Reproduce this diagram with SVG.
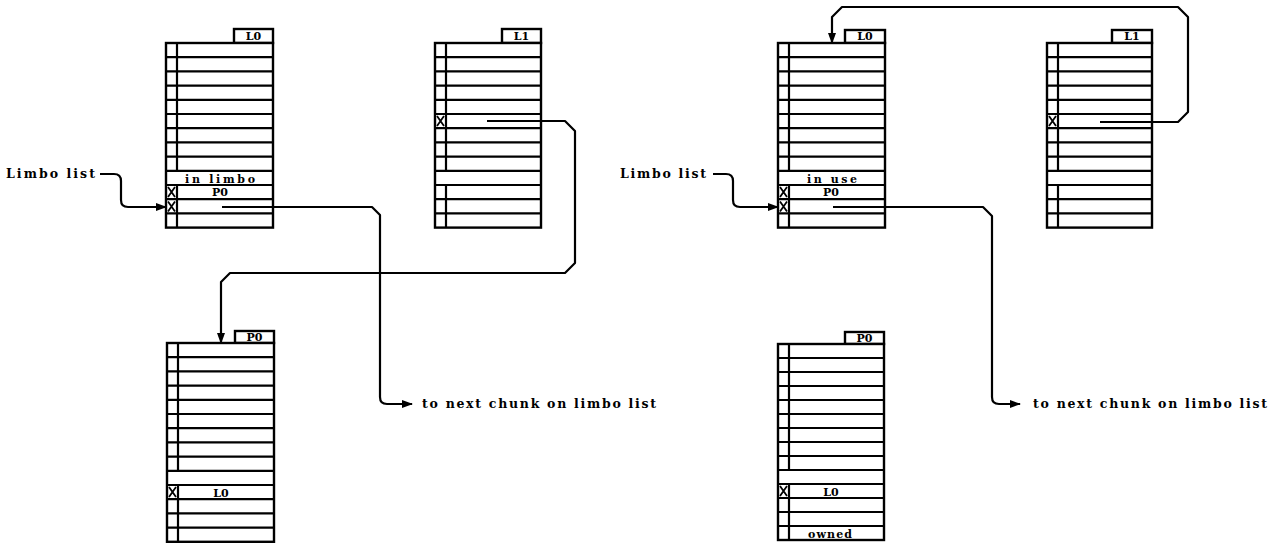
<svg xmlns="http://www.w3.org/2000/svg" width="1280" height="544" viewBox="0 0 1280 544">
<style>
.box{fill:#fff;stroke:#000;stroke-width:2.4}
.ln{fill:none;stroke:#000;stroke-width:2.2}
.mk{fill:none;stroke:#000;stroke-width:1.8}
.con{fill:none;stroke:#000;stroke-width:2.2;stroke-linejoin:round}
.t{font-family:"DejaVu Serif","Liberation Serif",serif;font-weight:bold;fill:#000}
.lab{font-size:12.5px}
.in{font-size:11px}
</style>
<defs>
<marker id="ah" markerUnits="userSpaceOnUse" markerWidth="11" markerHeight="8" refX="10" refY="4" orient="auto">
<path d="M0,0 L11,4 L0,8 z" fill="#000"/>
</marker>
</defs>
<rect width="1280" height="544" fill="#fff"/>

<!-- LEFT SIDE -->
<g id="left-L0" transform="translate(166,43)">
<rect class="box" x="68" y="-14" width="39" height="14"/>
<text class="t in" x="87.5" y="-3" text-anchor="middle">L0</text>
<rect class="box" x="0" y="0" width="107" height="184.6"/>
<path class="ln" d="M0 14.2H107M0 28.4H107M0 42.6H107M0 56.8H107M0 71H107M0 85.2H107M0 99.4H107M0 113.6H107M0 127.8H107M0 142H107M0 156.2H107M0 170.4H107M11 0V127.8M11 142V184.6"/>
<path class="mk" d="M2 144L9 154M9 144L2 154M2 158.5L9 168.5M9 158.5L2 168.5"/>
<text class="t in" x="54" y="140" text-anchor="middle" textLength="70" lengthAdjust="spacing">in limbo</text>
<text class="t in" x="54" y="153" text-anchor="middle">P0</text>
</g>

<g id="left-L1" transform="translate(435,43)">
<rect class="box" x="67" y="-14" width="39" height="14"/>
<text class="t in" x="86.5" y="-3" text-anchor="middle">L1</text>
<rect class="box" x="0" y="0" width="106" height="184.6"/>
<path class="ln" d="M0 14.2H106M0 28.4H106M0 42.6H106M0 56.8H106M0 71H106M0 85.2H106M0 99.4H106M0 113.6H106M0 127.8H106M0 142H106M0 156.2H106M0 170.4H106M11 0V127.8M11 142V184.6"/>
<path class="mk" d="M2 73L9 83M9 73L2 83"/>
</g>

<g id="left-P0" transform="translate(167,343)">
<rect class="box" x="68" y="-12" width="39" height="12"/>
<text class="t in" x="87.5" y="-2" text-anchor="middle">P0</text>
<rect class="box" x="0" y="0" width="107" height="198.8"/>
<path class="ln" d="M0 14.2H107M0 28.4H107M0 42.6H107M0 56.8H107M0 71H107M0 85.2H107M0 99.4H107M0 113.6H107M0 127.8H107M0 142H107M0 156.2H107M0 170.4H107M0 184.6H107M11 0V127.8M11 142V198.8"/>
<path class="mk" d="M2 144L9 154M9 144L2 154"/>
<text class="t in" x="54" y="154" text-anchor="middle">L0</text>
</g>

<!-- RIGHT SIDE -->
<g id="right-L0" transform="translate(778,43)">
<rect class="box" x="67" y="-13" width="40" height="13"/>
<text class="t in" x="87" y="-3" text-anchor="middle">L0</text>
<rect class="box" x="0" y="0" width="107" height="184.6"/>
<path class="ln" d="M0 14.2H107M0 28.4H107M0 42.6H107M0 56.8H107M0 71H107M0 85.2H107M0 99.4H107M0 113.6H107M0 127.8H107M0 142H107M0 156.2H107M0 170.4H107M11 0V127.8M11 142V184.6"/>
<path class="mk" d="M2 144L9 154M9 144L2 154M2 158.5L9 168.5M9 158.5L2 168.5"/>
<text class="t in" x="54" y="140" text-anchor="middle" textLength="50" lengthAdjust="spacing">in use</text>
<text class="t in" x="53" y="153" text-anchor="middle">P0</text>
</g>

<g id="right-L1" transform="translate(1047,43)">
<rect class="box" x="65" y="-13" width="40" height="13"/>
<text class="t in" x="85" y="-3" text-anchor="middle">L1</text>
<rect class="box" x="0" y="0" width="105" height="184.6"/>
<path class="ln" d="M0 14.2H105M0 28.4H105M0 42.6H105M0 56.8H105M0 71H105M0 85.2H105M0 99.4H105M0 113.6H105M0 127.8H105M0 142H105M0 156.2H105M0 170.4H105M11 0V127.8M11 142V184.6"/>
<path class="mk" d="M2 73L9 83M9 73L2 83"/>
</g>

<g id="right-P0" transform="translate(778,344)">
<rect class="box" x="67" y="-12" width="39" height="12"/>
<text class="t in" x="86.5" y="-2" text-anchor="middle">P0</text>
<rect class="box" x="0" y="0" width="106" height="196"/>
<path class="ln" d="M0 14H106M0 28H106M0 42H106M0 56H106M0 70H106M0 84H106M0 98H106M0 112H106M0 126H106M0 140H106M0 154H106M0 168H106M0 182H106M11 0V126M11 140V196"/>
<path class="mk" d="M2 142L9 152M9 142L2 152"/>
<text class="t in" x="53" y="152" text-anchor="middle">L0</text>
<text class="t in" x="52" y="194" text-anchor="middle" textLength="44" lengthAdjust="spacing">owned</text>
</g>

<!-- CONNECTORS -->
<g id="connectors">
<path class="con" marker-end="url(#ah)" d="M100 174H114Q121 174 121 181V200Q121 207 128 207H166"/>
<path class="con" marker-end="url(#ah)" d="M713 174H726Q733 174 733 181V200Q733 207 740 207H778"/>
<path class="con" marker-end="url(#ah)" d="M222 207H372L380 215V397Q380 404 387 404H412"/>
<path class="con" marker-end="url(#ah)" d="M833 207H983L992 216V397Q992 404 999 404H1020"/>
<path class="con" marker-end="url(#ah)" d="M487 121H565L575 131V263L565 273H230L221 282V343"/>
<path class="con" marker-end="url(#ah)" d="M1100 122H1178L1188 112V17L1178 7H842L832 17V43"/>
</g>

<!-- LABELS -->
<g id="labels">
<text class="t lab" x="6" y="178" textLength="89" lengthAdjust="spacing">Limbo list</text>
<text class="t lab" x="620" y="178" textLength="86" lengthAdjust="spacing">Limbo list</text>
<text class="t lab" x="422" y="408" textLength="234" lengthAdjust="spacing">to next chunk on limbo list</text>
<text class="t lab" x="1033" y="408" textLength="234" lengthAdjust="spacing">to next chunk on limbo list</text>
</g>
</svg>
